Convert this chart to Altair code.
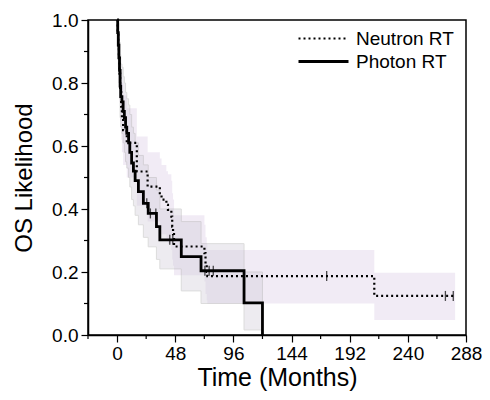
import altair as alt
import pandas as pd

# ---- data ----
groups = ["Neutron RT", "Photon RT"]

neutron_time = [0, 0.5, 1, 1.5, 2, 2.5, 3.4, 4, 5, 8, 16.3, 25.2, 35.3, 36.7, 40.7, 42,
                44.8, 45.5, 46.2, 47, 72.1, 73, 74, 74.5, 212.3, 279]
neutron_surv = [1.0, 0.96, 0.92, 0.88, 0.83, 0.78, 0.725, 0.69, 0.65, 0.61, 0.519, 0.471, 0.45,
                0.43, 0.413, 0.397, 0.376, 0.344, 0.32, 0.281, 0.26, 0.225, 0.2, 0.187, 0.124, 0.124]
neutron_low = [1.0, 0.90, 0.85, 0.80, 0.74, 0.68, 0.62, 0.58, 0.54, 0.50, 0.41, 0.36, 0.34,
               0.32, 0.30, 0.29, 0.27, 0.24, 0.22, 0.19, 0.17, 0.13, 0.11, 0.10, 0.048, 0.048]
neutron_up = [1.0, 1.0, 0.99, 0.96, 0.92, 0.88, 0.83, 0.80, 0.76, 0.72, 0.63, 0.58, 0.56,
              0.54, 0.52, 0.51, 0.49, 0.45, 0.43, 0.38, 0.35, 0.31, 0.29, 0.27, 0.198, 0.198]

photon_time = [0, 0.5, 1, 1.5, 2, 2.5, 3, 4, 5, 6, 7, 8, 9.5, 10.5, 12, 13.5, 14.9, 17.6,
               21.7, 25.7, 32.5, 35.3, 53, 69.3, 104.8, 120]
photon_surv = [1.0, 0.96, 0.92, 0.88, 0.84, 0.79, 0.757, 0.74, 0.71, 0.69, 0.66, 0.64, 0.61,
               0.58, 0.546, 0.52, 0.49, 0.455, 0.418, 0.386, 0.344, 0.302, 0.249, 0.204, 0.102, 0.0]
photon_low = [1.0, 0.91, 0.85, 0.80, 0.75, 0.69, 0.66, 0.64, 0.61, 0.58, 0.55, 0.53, 0.50,
              0.47, 0.43, 0.41, 0.38, 0.35, 0.31, 0.28, 0.24, 0.21, 0.14, 0.10, 0.016, 0.0]
photon_up = [1.0, 1.0, 0.99, 0.96, 0.93, 0.89, 0.86, 0.85, 0.82, 0.80, 0.77, 0.75, 0.73,
             0.70, 0.66, 0.64, 0.61, 0.57, 0.54, 0.50, 0.46, 0.40, 0.36, 0.29, 0.20, 0.0]

neutron_cens_time = [173, 271, 277.5]
neutron_cens_surv = [0.187, 0.124, 0.124]
photon_cens_time = [24.5, 27.5, 32, 43.5, 46, 72.5, 76, 79.4]
photon_cens_surv = [0.418, 0.386, 0.386, 0.302, 0.302, 0.204, 0.204, 0.204]

x_major = [0, 48, 96, 144, 192, 240, 288]
x_minor = [-24, 24, 72, 120, 168, 216, 264]
y_major = [0.0, 0.2, 0.4, 0.6, 0.8, 1.0]
y_minor = [0.1, 0.3, 0.5, 0.7, 0.9]

# ---- tables ----
curves = pd.concat([
    pd.DataFrame({"t": neutron_time, "s": neutron_surv, "lo": neutron_low, "hi": neutron_up, "g": groups[0]}),
    pd.DataFrame({"t": photon_time, "s": photon_surv, "lo": photon_low, "hi": photon_up, "g": groups[1]}),
])
cens = pd.concat([
    pd.DataFrame({"t": neutron_cens_time, "s": neutron_cens_surv, "g": groups[0]}),
    pd.DataFrame({"t": photon_cens_time, "s": photon_cens_surv, "g": groups[1]}),
])

FONT = "Liberation Sans"
PLOT_W, PLOT_H = 378, 315
xs = alt.Scale(domain=[-24, 288], nice=False, zero=False)
ys = alt.Scale(domain=[0, 1], nice=False)

x_axis = alt.Axis(values=x_major, title="Time (Months)", tickSize=7, format="d",
                  labelFontSize=19, titleFontSize=25, labelPadding=2, titlePadding=2, grid=False,
                  labelFont=FONT, titleFont=FONT, titleFontWeight="normal",
                  domainColor="black", tickColor="black", labelColor="black", titleColor="black",
                  domainWidth=1.5, tickWidth=1.2, labelFlush=False)
y_axis = alt.Axis(values=y_major, format=".1f", title="OS Likelihood", tickSize=7,
                  labelFontSize=19, titleFontSize=24, labelPadding=3, titlePadding=15, grid=False,
                  labelFont=FONT, titleFont=FONT, titleFontWeight="normal",
                  domainColor="black", tickColor="black", labelColor="black", titleColor="black",
                  domainWidth=1.5, tickWidth=1.2, labelFlush=False)

base = alt.Chart(curves)

band_n = base.transform_filter(alt.datum.g == groups[0]).mark_area(
    interpolate="step-after", color="#dfd3e8", opacity=0.45
).encode(
    x=alt.X("t:Q", scale=xs, axis=x_axis),
    y=alt.Y("lo:Q", scale=ys, axis=y_axis),
    y2="hi:Q",
)

band_p = base.transform_filter(alt.datum.g == groups[1]).mark_area(
    interpolate="step-after", color="#d3cfda", opacity=0.4, stroke="#a9a9a9", strokeWidth=1
).encode(
    x=alt.X("t:Q", scale=xs),
    y=alt.Y("lo:Q", scale=ys),
    y2="hi:Q",
)

lines = base.mark_line(interpolate="step-after", color="black").encode(
    x=alt.X("t:Q", scale=xs),
    y=alt.Y("s:Q", scale=ys),
    strokeDash=alt.StrokeDash("g:N", scale=alt.Scale(domain=groups, range=[[2, 3], [1, 0]]),
                              legend=alt.Legend(title=None, orient="none", legendX=226, legendY=9,
                                                symbolType="M-5,0H5", symbolSize=100,
                                                symbolStrokeWidth=2.2, symbolStrokeColor="black",
                                                labelFontSize=19, labelFont=FONT, labelColor="black",
                                                labelOffset=23, rowPadding=3, padding=0)),
    strokeWidth=alt.StrokeWidth("g:N", scale=alt.Scale(domain=groups, range=[2.2, 2.8]), legend=None),
    order="t:Q",
)

ticks = alt.Chart(cens).mark_tick(orient="vertical", color="black", size=10, thickness=1.3).encode(
    x=alt.X("t:Q", scale=xs),
    y=alt.Y("s:Q", scale=ys),
)

# minor axis ticks (shorter, unlabeled)
minor_x = alt.Chart(pd.DataFrame({"t": x_minor})).mark_rule(color="black", strokeWidth=1.2).encode(
    x=alt.X("t:Q", scale=xs),
    y=alt.value(PLOT_H),
    y2=alt.value(PLOT_H + 4),
)
minor_y = alt.Chart(pd.DataFrame({"s": y_minor})).mark_rule(color="black", strokeWidth=1.2).encode(
    y=alt.Y("s:Q", scale=ys),
    x=alt.value(-4),
    x2=alt.value(0),
)

chart = alt.layer(band_n, band_p, lines, ticks, minor_x, minor_y).properties(
    width=PLOT_W, height=PLOT_H,
    background="white",
    padding={"left": 4, "top": 3, "right": 0, "bottom": 2},
).configure_view(stroke="black", strokeWidth=1.5)

chart.save("out.html", embed_options={"renderer": "svg", "actions": False})
